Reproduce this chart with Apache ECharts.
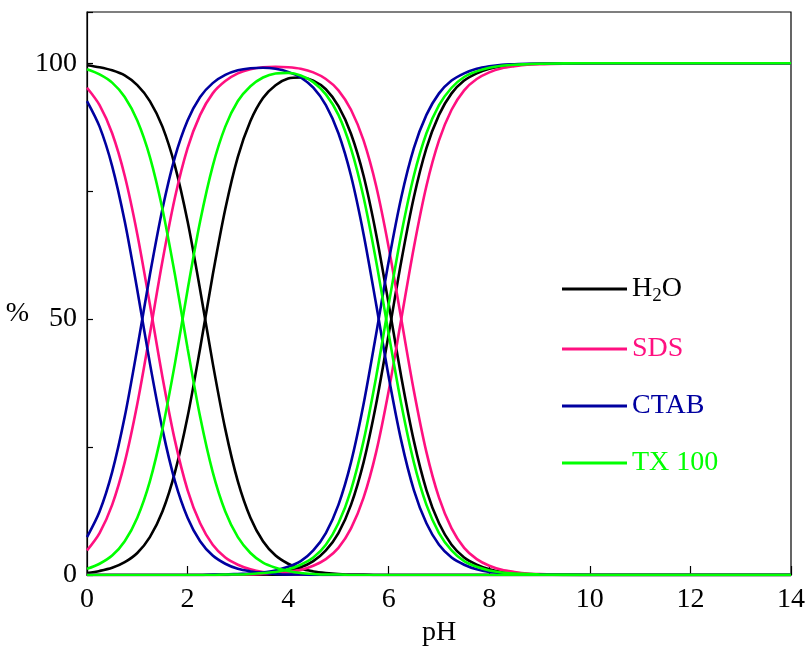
<!DOCTYPE html>
<html><head><meta charset="utf-8">
<script src="https://cdn.jsdelivr.net/npm/echarts@6/dist/echarts.min.js"></script>
<style>html,body{margin:0;padding:0;background:#fff}#c{width:808px;height:649px}</style>
</head><body><div id="c"></div>
<script>
// pH grid
const pH = [0,0.25,0.5,0.75,1,1.25,1.5,1.75,2,2.25,2.5,2.75,3,3.25,3.5,3.75,4,4.25,4.5,4.75,5,5.25,5.5,5.75,6,6.25,6.5,6.75,7,7.25,7.5,7.75,8,8.25,8.5,8.75,9,10,12,14];
const xTicks = [0,2,4,6,8,10,12,14];
const yTicks = [0,50,100];
const systems = ['H2O','SDS','CTAB','TX 100'];

// H2O
const h2o_H2A = [99.6,99.2,98.6,97.6,95.7,92.6,87.6,79.9,69.1,55.7,41.4,28.5,18.3,11.2,6.6,3.8,2.2,1.2,0.7,0.4,0.2,0.1,0.1,0,0,0,0,0,0,0,0,0,0,0,0,0,0,0,0,0];
const h2o_HA  = [0.4,0.8,1.4,2.5,4.3,7.4,12.4,20.1,30.9,44.3,58.6,71.5,81.7,88.7,93.2,95.7,97.0,97.2,96.6,94.9,91.6,86.2,78.0,66.6,52.9,38.7,26.2,16.6,10.1,5.9,3.4,2.0,1.1,0.6,0.4,0.2,0.1,0,0,0];
const h2o_A   = [0,0,0,0,0,0,0,0,0,0,0,0,0.1,0.1,0.3,0.5,0.9,1.5,2.7,4.8,8.2,13.7,22.0,33.4,47.1,61.3,73.8,83.4,89.9,94.1,96.6,98.0,98.9,99.4,99.7,99.8,99.9,100,100,100];
// SDS
const sds_H2A = [95.2,91.8,86.3,78.0,66.6,52.9,38.7,26.2,16.6,10.1,5.9,3.4,2.0,1.1,0.6,0.4,0.2,0.1,0.1,0,0,0,0,0,0,0,0,0,0,0,0,0,0,0,0,0,0,0,0,0];
const sds_HA  = [4.8,8.2,13.7,22.0,33.4,47.1,61.3,73.8,83.4,89.9,94.1,96.5,98.0,98.8,99.2,99.3,99.2,98.9,98.2,96.9,94.7,90.9,84.9,76.0,64.0,50.0,36.0,24.0,15.1,9.1,5.3,3.1,1.8,1.0,0.6,0.3,0.2,0,0,0];
const sds_A   = [0,0,0,0,0,0,0,0,0,0,0,0,0.1,0.1,0.2,0.3,0.6,1.0,1.8,3.1,5.3,9.1,15.1,24.0,36.0,50.0,64.0,76.0,84.9,90.9,94.7,96.9,98.2,99.0,99.4,99.7,99.8,100,100,100];
// CTAB
const ctab_H2A = [92.6,87.6,79.9,69.1,55.7,41.4,28.5,18.3,11.2,6.6,3.8,2.2,1.2,0.7,0.4,0.2,0.1,0.1,0,0,0,0,0,0,0,0,0,0,0,0,0,0,0,0,0,0,0,0,0,0];
const ctab_HA  = [7.4,12.4,20.1,30.9,44.3,58.6,71.5,81.7,88.8,93.4,96.1,97.7,98.6,99.0,99.1,98.9,98.3,97.2,95.2,91.8,86.3,78.0,66.6,52.9,38.7,26.2,16.6,10.1,5.9,3.4,2.0,1.1,0.6,0.4,0.2,0.1,0.1,0,0,0];
const ctab_A   = [0,0,0,0,0,0,0,0,0,0,0.1,0.1,0.2,0.3,0.5,0.9,1.6,2.7,4.8,8.2,13.7,22.0,33.4,47.1,61.3,73.8,83.4,89.9,94.1,96.6,98.0,98.9,99.4,99.7,99.8,99.9,99.9,100,100,100];
// TX 100
const tx_H2A = [98.8,97.8,96.2,93.4,88.8,81.7,71.5,58.6,44.3,30.9,20.1,12.4,7.4,4.3,2.4,1.4,0.8,0.4,0.2,0.1,0.1,0,0,0,0,0,0,0,0,0,0,0,0,0,0,0,0,0,0,0];
const tx_HA  = [1.2,2.2,3.8,6.6,11.2,18.3,28.5,41.4,55.7,69.1,79.9,87.6,92.6,95.5,97.2,98.0,98.1,97.6,96.3,93.9,89.9,83.3,73.8,61.3,47.1,33.4,22.0,13.7,8.2,4.8,2.7,1.6,0.9,0.5,0.3,0.2,0.1,0,0,0];
const tx_A   = [0,0,0,0,0,0,0,0,0,0,0,0.1,0.1,0.2,0.4,0.6,1.1,2.0,3.4,5.9,10.1,16.6,26.2,38.7,52.9,66.6,78.0,86.3,91.8,95.2,97.3,98.4,99.1,99.5,99.7,99.8,99.9,100,100,100];

const colors = {'H2O':'#000000','SDS':'#ff1080','CTAB':'#0000a0','TX 100':'#00ff00'};
const groups = [
  ['H2O',[h2o_H2A,h2o_HA,h2o_A]],
  ['SDS',[sds_H2A,sds_HA,sds_A]],
  ['CTAB',[ctab_H2A,ctab_HA,ctab_A]],
  ['TX 100',[tx_H2A,tx_HA,tx_A]]
];
const series = [];
groups.forEach(([name, arrs])=>{
  arrs.forEach(arr=>{
    series.push({
      name, type:'line', showSymbol:false, smooth:0.3,
      data: pH.map((x,i)=>[x,arr[i]]),
      lineStyle:{color:colors[name], width:2.6},
      itemStyle:{color:colors[name]},
      emphasis:{disabled:true}, silent:true
    });
  });
});
const font = 'Liberation Serif';
const chart = echarts.init(document.getElementById('c'));
chart.setOption({
  animation:false,
  backgroundColor:'#fff',
  grid:{left:87,right:17,top:12,bottom:74,outerBoundsMode:'none',containLabel:false,
    show:true,borderColor:'#000',borderWidth:1.2,backgroundColor:'transparent'},
  xAxis:{type:'value',min:0,max:14,interval:2,
    name:'pH',nameLocation:'middle',nameGap:44,
    nameTextStyle:{fontFamily:font,fontSize:28,color:'#000'},
    axisLine:{show:true,onZero:false,lineStyle:{color:'#000',width:1.2}},
    axisTick:{show:true,inside:true,length:9,lineStyle:{color:'#000',width:1.2}},
    axisLabel:{fontFamily:font,fontSize:28,color:'#000',margin:11,
      formatter:v=>xTicks.includes(v)?String(v):''},
    splitLine:{show:false}},
  yAxis:{type:'value',min:0,max:110,interval:25,
    name:'{p|%}',nameLocation:'middle',nameRotate:0,nameGap:51,
    nameTextStyle:{fontFamily:font,fontSize:28,color:'#000',
      rich:{p:{fontFamily:font,fontSize:28,color:'#000',padding:[40,0,0,0]}}},
    axisLine:{show:true,lineStyle:{color:'#000',width:1.2}},
    axisTick:{show:true,inside:true,length:6,lineStyle:{color:'#000',width:1.2}},
    axisLabel:{fontFamily:font,fontSize:28,color:'#000',margin:10,
      formatter:v=>yTicks.includes(v)?String(v):''},
    splitLine:{show:false}},
  legend:{
    show:true, orient:'vertical', left:557, top:270,
    itemWidth:65, itemHeight:3, itemGap:29, icon:'rect',
    data: systems.map(n=>({name:n, itemStyle:{color:colors[n]}, textStyle:{color:colors[n]}})),
    formatter: n => n==='H2O' ? '{a|H}{s|2}{a|O}' : '{a|'+n+'}',
    textStyle:{fontFamily:font,fontSize:28,
      rich:{a:{fontFamily:font,fontSize:28},s:{fontFamily:font,fontSize:19,padding:[15,0,0,0]}}},
    selectedMode:false
  },
  series
});
</script></body></html>
